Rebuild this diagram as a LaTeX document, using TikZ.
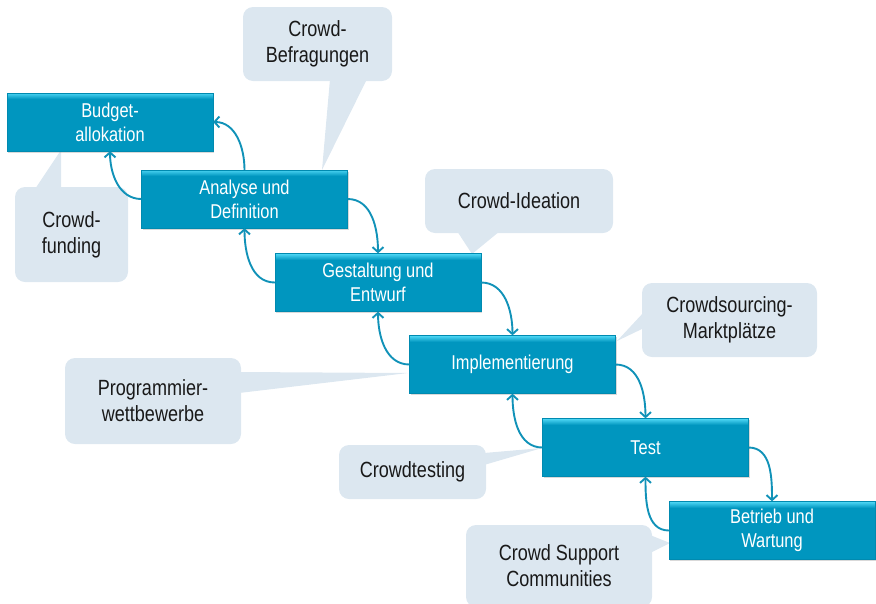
\documentclass[tikz,border=0pt]{standalone}
\usepackage{fontspec}
\setmainfont{Liberation Sans}[FakeStretch=0.82]
\usetikzlibrary{positioning,shadows,arrows.meta}

\definecolor{boxblue}{HTML}{0096BF}
\definecolor{boxlight}{HTML}{4AD3F2}
\definecolor{arrowblue}{HTML}{1192B8}
\definecolor{calloutgray}{HTML}{DCE7F0}

\begin{document}
\begin{tikzpicture}[x=1pt,y=1pt,
		phase/.style={rectangle,fill=boxblue,draw=boxblue!92!black,line width=.3pt,
			minimum width=206pt,minimum height=58pt,text=white,align=center,
			font=\fontsize{20}{24}\selectfont,
			drop shadow={opacity=.3,shadow xshift=1pt,shadow yshift=-1.5pt},
			path picture={\foreach \i in {0,...,5}
				\fill[boxlight!\the\numexpr100-\i*17\relax!boxblue]
				([yshift=-\i pt]path picture bounding box.north west) rectangle ([yshift=-\i pt-1.1pt]path picture bounding box.north east);}},
		callout/.style={rectangle,rounded corners=10pt,fill=calloutgray,align=center,
			text=black!90,font=\fontsize{22}{26}\selectfont},
		tail/.style={fill=calloutgray},
		flow/.style={arrowblue,line width=1.9pt,-{Straight Barb[length=5pt,width=11pt]}}]
		\useasboundingbox (0,0) rectangle (876,-603);
		% Sprechblasen
		\node[callout,minimum width=149pt,minimum height=74pt] (bef) at (317.5,-44) {Crowd-\\Befragungen};
		\node[callout,minimum width=113pt,minimum height=95pt] (fund) at (71.5,-234.5) {Crowd-\\funding};
		\node[callout,minimum width=188pt,minimum height=64pt] (idea) at (519,-201) {Crowd-Ideation};
		\node[callout,minimum width=175pt,minimum height=74pt] (markt) at (729.5,-320) {Crowdsourcing-\\Marktplätze};
		\node[callout,minimum width=176pt,minimum height=86pt] (prog) at (153,-401) {Programmier-\\wettbewerbe};
		\node[callout,minimum width=147pt,minimum height=54pt] (ctest) at (412.5,-472) {Crowdtesting};
		\node[callout,minimum width=186pt,minimum height=82pt] (supp) at (559,-566) {Crowd Support\\Communities};
		\fill[tail] (330,-79) -- (322,-170) -- (367,-79) -- cycle;
		\fill[tail] (35,-189) -- (61,-150) -- (61,-189) -- cycle;
		\fill[tail] (457,-231) -- (472,-254) -- (500,-231) -- cycle;
		\fill[tail] (644,-312) -- (617,-341) -- (644,-328) -- cycle;
		\fill[tail] (239,-372) -- (408,-373) -- (239,-393) -- cycle;
		\fill[tail] (484,-453) -- (542,-448) -- (484,-465) -- cycle;
		\fill[tail] (650,-535) -- (670,-543) -- (650,-553) -- cycle;
		% Phasen
		\node[phase] (bud) at (110,-122) {Budget-\\allokation};
		\node[phase] (ana) at (244.5,-199) {Analyse und\\Definition};
		\node[phase] (ges) at (378,-282.5) {Gestaltung und\\Entwurf};
		\node[phase] (imp) at (512.5,-364.5) {Implementierung};
		\node[phase] (tst) at (645.5,-447.5) {Test};
		\node[phase] (bet) at (772,-530.5) {Betrieb und\\Wartung};
		% Pfeile
		\draw[flow] (ana.north) to[out=90,in=0] (bud.east);
		\draw[flow] (ana.west) to[out=180,in=-90] (bud.south);
		\draw[flow] (ana.east) to[out=0,in=90] (ges.north);
		\draw[flow] (ges.west) to[out=180,in=-90] (ana.south);
		\draw[flow] (ges.east) to[out=0,in=90] (imp.north);
		\draw[flow] (imp.west) to[out=180,in=-90] (ges.south);
		\draw[flow] (imp.east) to[out=0,in=90] (tst.north);
		\draw[flow] (tst.west) to[out=180,in=-90] (imp.south);
		\draw[flow] (tst.east) to[out=0,in=90] (bet.north);
		\draw[flow] (bet.west) to[out=180,in=-90] (tst.south);
	\end{tikzpicture}
\end{document}
